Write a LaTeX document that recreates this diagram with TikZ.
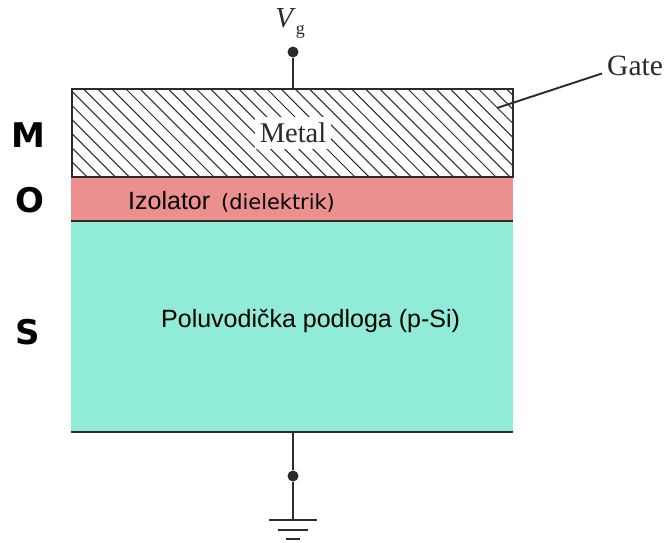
\documentclass[tikz,border=0pt]{standalone}
\usepackage{fontspec}
\setmainfont{Liberation Serif}
\newfontfamily\djsans{DejaVu Sans}
\newfontfamily\lisans{Liberation Sans}
\definecolor{pinkox}{HTML}{EB8F8F}
\definecolor{tealsi}{HTML}{90EBD7}
\definecolor{ink}{HTML}{2B2B2B}
\newcommand{\fsz}[1]{\fontsize{#1}{#1}\selectfont}
\tikzset{
  wire/.style={draw=ink,line width=1.9pt},
  hatchline/.style={draw=ink,line width=1.05pt},
  dotnode/.style={circle,fill=ink,inner sep=0pt,minimum size=11pt},
  serif/.style={inner sep=0pt,text=ink},
  sanslabel/.style={inner sep=0pt,anchor=base west,text=black},
  letterlabel/.style={inner sep=0pt,anchor=center,text=black,font=\djsans\bfseries\fsz{34}},
}
\begin{document}
\begin{tikzpicture}[x=1pt,y=-1pt]
\useasboundingbox (0,0) rectangle (664,543);
\fill[white] (0,0) rectangle (664,543);
% layers
\fill[pinkox] (71,177) rectangle (513,221);
\fill[tealsi] (71,221) rectangle (513,432);
% hatching
\begin{scope}
\clip (72,89) rectangle (513,177);
\foreach \i in {0,...,40} {
  \draw[hatchline] ({-15+14.1*\i},89) -- ({-15+14.1*\i+92},181);
}
\end{scope}
\node[serif,fill=white,minimum width=76pt,minimum height=32pt,font=\fsz{28.5}] (metal) at (293,133) {Metal};
\draw[wire] (72,89) rectangle (513,177);
\draw[wire] (71,221) -- (513,221);
\draw[wire] (71,432) -- (513,432);
% top terminal
\coordinate (topc) at (293,89);
\node[dotnode] (vdot) at (293,52) {};
\draw[wire] (vdot) -- (topc);
\node[serif,anchor=base,font=\fsz{29}] (vg) at (290,28) {\textit{V}\raisebox{-7pt}{\fsz{18}g}};
% gate
\node[serif,anchor=base west,font=\fsz{29.5}] (gate) at (607,75) {Gate};
\coordinate (gatec) at (497,108);
\draw[wire] (602,73.5) -- (gatec);
% bottom terminal
\coordinate (botc) at (293,432);
\node[dotnode] (bdot) at (293,476) {};
\coordinate (gnd) at (293,520);
\draw[wire] (botc) -- (bdot) -- (gnd);
\coordinate (g1l) at (269,520); \coordinate (g1r) at (317,520);
\coordinate (g2l) at (278,530); \coordinate (g2r) at (308,530);
\coordinate (g3l) at (286,539); \coordinate (g3r) at (300,539);
\draw[wire] (g1l) -- (g1r);
\draw[wire,line width=2.2pt] (g2l) -- (g2r);
\draw[wire,line width=2.2pt] (g3l) -- (g3r);
% labels
\node[letterlabel] (m) at (28,135) {M};
\node[letterlabel] (o) at (30,200) {O};
\node[letterlabel] (s) at (28,332) {S};
\node[sanslabel,font=\lisans\fsz{25}] (iz) at (128,209) {Izolator};
\node[sanslabel,font=\djsans\fsz{20.9}] (di) at (221,209) {(dielektrik)};
\node[sanslabel,font=\lisans\fsz{25}] (po) at (161,327.5) {Poluvodička podloga (p-Si)};
\end{tikzpicture}
\end{document}
